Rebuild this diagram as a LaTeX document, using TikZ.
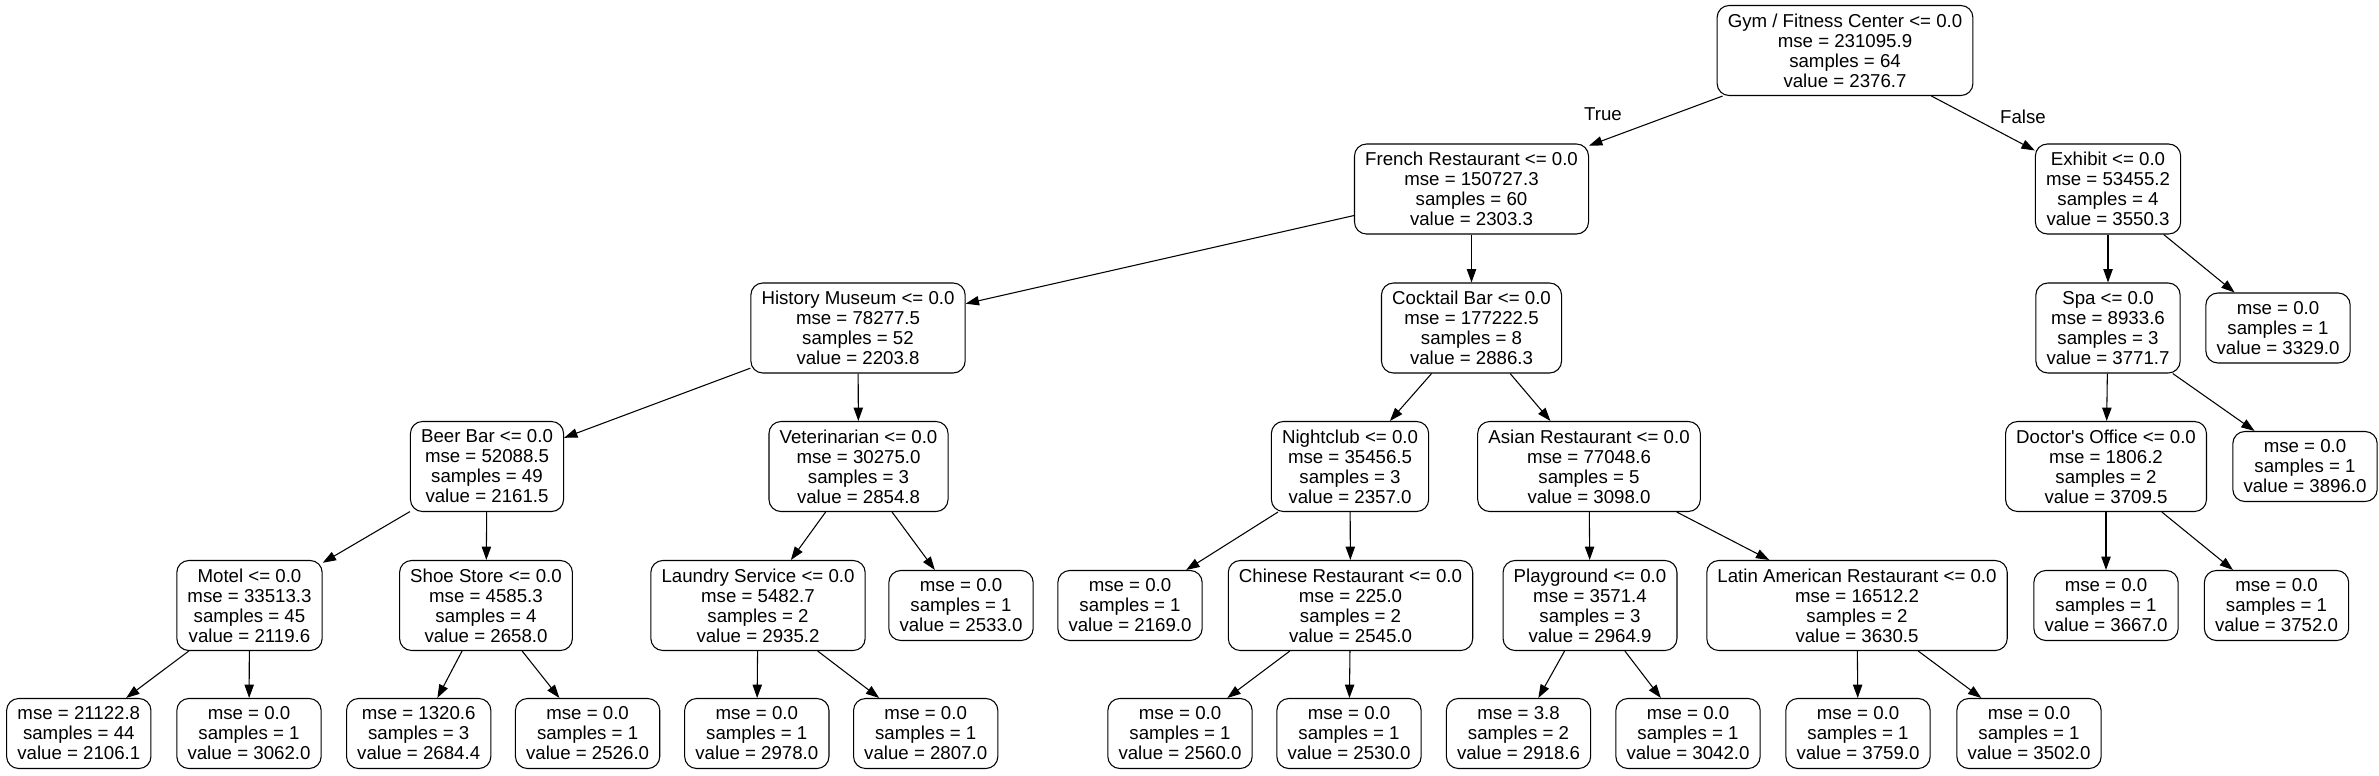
\documentclass[tikz,border=0pt]{standalone}
\usepackage{fontspec}
\setmainfont{Liberation Sans}[Ligatures=TeXOff]
\usepackage{tikz}
\usetikzlibrary{arrows.meta}

\begin{document}
\begin{tikzpicture}[x=0.75pt,y=-0.75pt,
    font=\fontsize{14}{15}\selectfont,
    box/.style={draw, rounded corners=9pt, align=center, inner xsep=8pt, inner ysep=0pt, line width=0.8pt},
    decision/.style={box, minimum height=67.5pt},
    leaf/.style={box, minimum height=52.5pt},
    edge/.style={-{Triangle[length=10pt,width=7pt]}, line width=0.8pt}]
    \useasboundingbox (0,0) rectangle (2379,775);

    % level 0
    \node[decision] (gym) at (1845,50.5) {Gym / Fitness Center <= 0.0\\mse = 231095.9\\samples = 64\\value = 2376.7};

    % level 1
    \node[decision] (french) at (1471.5,189) {French Restaurant <= 0.0\\mse = 150727.3\\samples = 60\\value = 2303.3};
    \node[decision] (exhibit) at (2108,189) {Exhibit <= 0.0\\mse = 53455.2\\samples = 4\\value = 3550.3};

    % level 2
    \node[decision] (history) at (858,328) {History Museum <= 0.0\\mse = 78277.5\\samples = 52\\value = 2203.8};
    \node[decision] (cocktail) at (1471.5,328) {Cocktail Bar <= 0.0\\mse = 177222.5\\samples = 8\\value = 2886.3};
    \node[decision] (spa) at (2108,328) {Spa <= 0.0\\mse = 8933.6\\samples = 3\\value = 3771.7};
    \node[leaf] (exhibitR) at (2278,328) {mse = 0.0\\samples = 1\\value = 3329.0};

    % level 3
    \node[decision] (beerbar) at (487,466.5) {Beer Bar <= 0.0\\mse = 52088.5\\samples = 49\\value = 2161.5};
    \node[decision] (vet) at (858.5,466.5) {Veterinarian <= 0.0\\mse = 30275.0\\samples = 3\\value = 2854.8};
    \node[decision] (nightclub) at (1350,466.5) {Nightclub <= 0.0\\mse = 35456.5\\samples = 3\\value = 2357.0};
    \node[decision] (asian) at (1589,466.5) {Asian Restaurant <= 0.0\\mse = 77048.6\\samples = 5\\value = 3098.0};
    \node[decision] (doctor) at (2106,466.5) {Doctor's Office <= 0.0\\mse = 1806.2\\samples = 2\\value = 3709.5};
    \node[leaf] (spaR) at (2305,466.5) {mse = 0.0\\samples = 1\\value = 3896.0};

    % level 4
    \node[decision] (motel) at (249.5,605.5) {Motel <= 0.0\\mse = 33513.3\\samples = 45\\value = 2119.6};
    \node[decision] (shoe) at (486,605.5) {Shoe Store <= 0.0\\mse = 4585.3\\samples = 4\\value = 2658.0};
    \node[decision] (laundry) at (758,605.5) {Laundry Service <= 0.0\\mse = 5482.7\\samples = 2\\value = 2935.2};
    \node[leaf] (vetR) at (961,605.5) {mse = 0.0\\samples = 1\\value = 2533.0};
    \node[leaf] (nightclubL) at (1130,605.5) {mse = 0.0\\samples = 1\\value = 2169.0};
    \node[decision] (chinese) at (1350.5,605.5) {Chinese Restaurant <= 0.0\\mse = 225.0\\samples = 2\\value = 2545.0};
    \node[decision] (playground) at (1590,605.5) {Playground <= 0.0\\mse = 3571.4\\samples = 3\\value = 2964.9};
    \node[decision] (latin) at (1857,605.5) {Latin American Restaurant <= 0.0\\mse = 16512.2\\samples = 2\\value = 3630.5};
    \node[leaf] (doctorL) at (2106,605.5) {mse = 0.0\\samples = 1\\value = 3667.0};
    \node[leaf] (doctorR) at (2276.5,605.5) {mse = 0.0\\samples = 1\\value = 3752.0};

    % level 5
    \node[leaf] (motelL) at (78.8,733.5) {mse = 21122.8\\samples = 44\\value = 2106.1};
    \node[leaf] (motelR) at (249,733.5) {mse = 0.0\\samples = 1\\value = 3062.0};
    \node[leaf] (shoeL) at (418.7,733.5) {mse = 1320.6\\samples = 3\\value = 2684.4};
    \node[leaf] (shoeR) at (587.6,733.5) {mse = 0.0\\samples = 1\\value = 2526.0};
    \node[leaf] (laundryL) at (756.8,733.5) {mse = 0.0\\samples = 1\\value = 2978.0};
    \node[leaf] (laundryR) at (925.7,733.5) {mse = 0.0\\samples = 1\\value = 2807.0};
    \node[leaf] (chineseL) at (1180,733.5) {mse = 0.0\\samples = 1\\value = 2560.0};
    \node[leaf] (chineseR) at (1349,733.5) {mse = 0.0\\samples = 1\\value = 2530.0};
    \node[leaf] (playgroundL) at (1518.5,733.5) {mse = 3.8\\samples = 2\\value = 2918.6};
    \node[leaf] (playgroundR) at (1688,733.5) {mse = 0.0\\samples = 1\\value = 3042.0};
    \node[leaf] (latinL) at (1858,733.5) {mse = 0.0\\samples = 1\\value = 3759.0};
    \node[leaf] (latinR) at (2029,733.5) {mse = 0.0\\samples = 1\\value = 3502.0};

    % branch labels
    \node (true) at (1603,114) {True};
    \node (false) at (2023,117) {False};

    \draw[edge] (gym) -- (french);
    \draw[edge] (gym) -- (exhibit);

    \draw[edge] (french) -- (history);
    \draw[edge] (french) -- (cocktail);
    \draw[edge] (exhibit) -- (spa);
    \draw[edge] (exhibit) -- (exhibitR);

    \draw[edge] (history) -- (beerbar);
    \draw[edge] (history) -- (vet);
    \draw[edge] (cocktail) -- (nightclub);
    \draw[edge] (cocktail) -- (asian);
    \draw[edge] (spa) -- (doctor);
    \draw[edge] (spa) -- (spaR);

    \draw[edge] (beerbar) -- (motel);
    \draw[edge] (beerbar) -- (shoe);
    \draw[edge] (vet) -- (laundry);
    \draw[edge] (vet) -- (vetR);
    \draw[edge] (nightclub) -- (nightclubL);
    \draw[edge] (nightclub) -- (chinese);
    \draw[edge] (asian) -- (playground);
    \draw[edge] (asian) -- (latin);
    \draw[edge] (doctor) -- (doctorL);
    \draw[edge] (doctor) -- (doctorR);

    \draw[edge] (motel) -- (motelL);
    \draw[edge] (motel) -- (motelR);
    \draw[edge] (shoe) -- (shoeL);
    \draw[edge] (shoe) -- (shoeR);
    \draw[edge] (laundry) -- (laundryL);
    \draw[edge] (laundry) -- (laundryR);
    \draw[edge] (chinese) -- (chineseL);
    \draw[edge] (chinese) -- (chineseR);
    \draw[edge] (playground) -- (playgroundL);
    \draw[edge] (playground) -- (playgroundR);
    \draw[edge] (latin) -- (latinL);
    \draw[edge] (latin) -- (latinR);
\end{tikzpicture}
\end{document}
